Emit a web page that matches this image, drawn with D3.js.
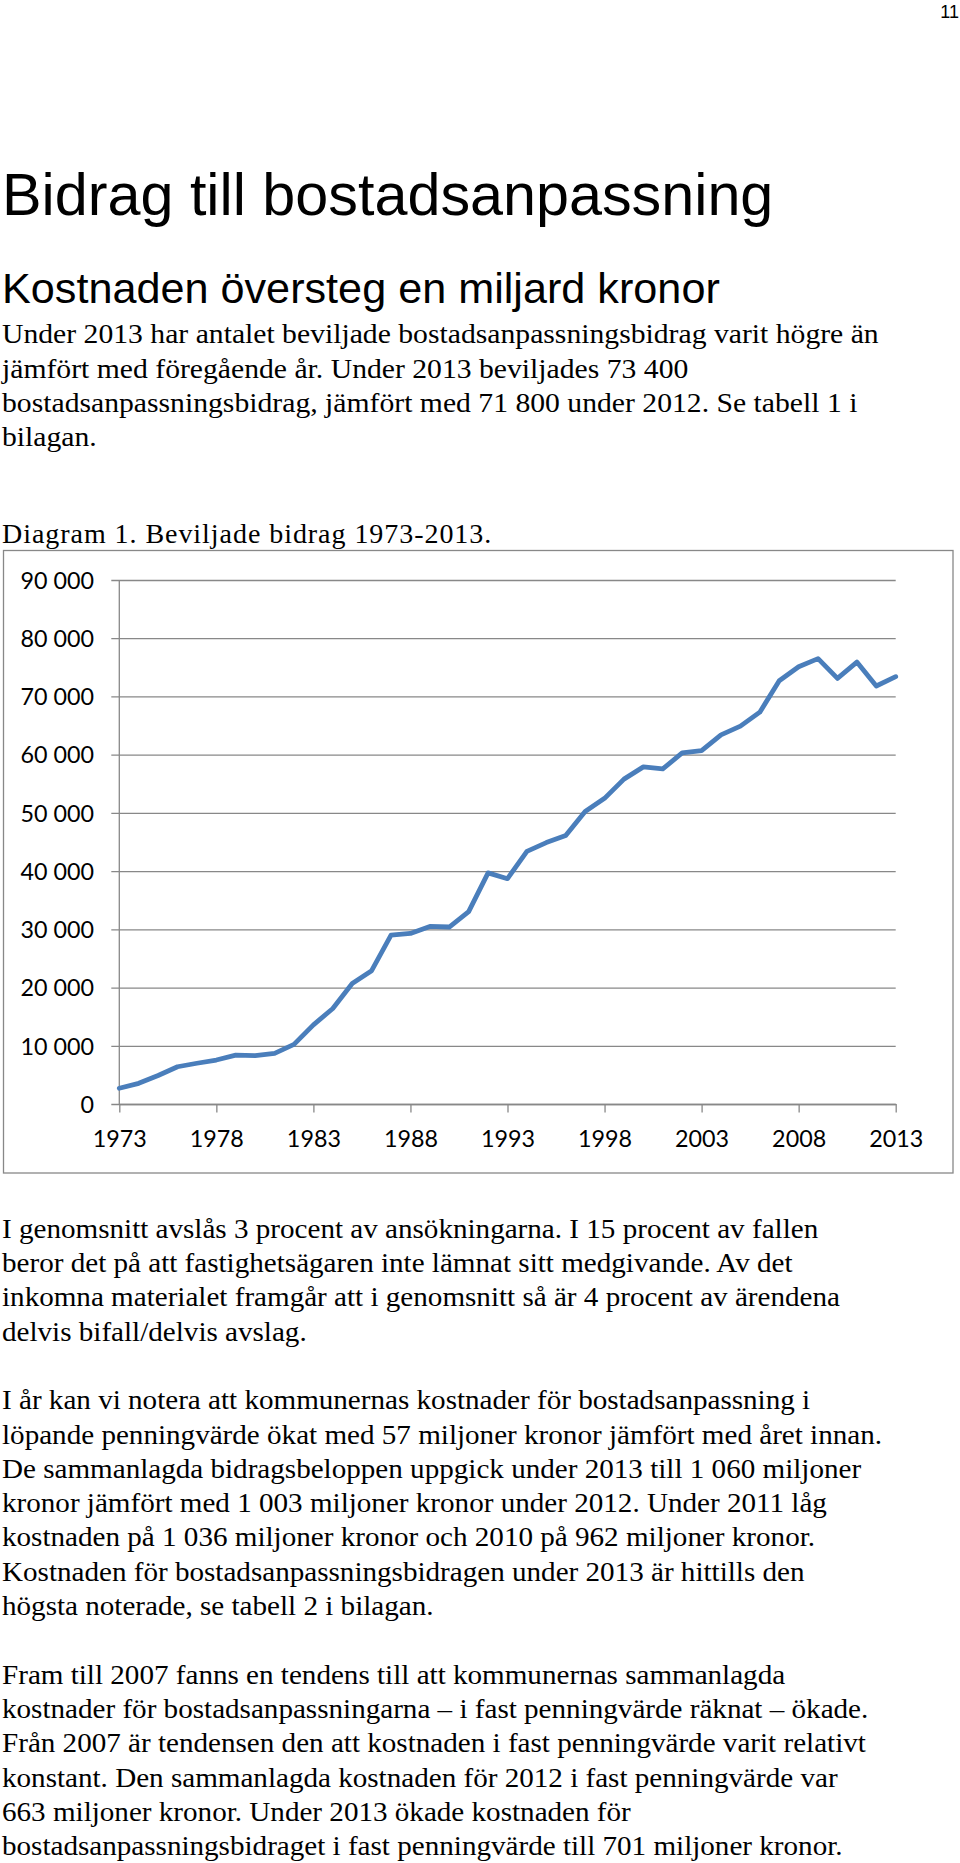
<!DOCTYPE html>
<html>
<head>
<meta charset="utf-8">
<script src="https://cdn.jsdelivr.net/npm/d3@7/dist/d3.min.js"></script>
<style>
  html, body { margin: 0; padding: 0; background: #fff; }
  svg { display: block; }
</style>
</head>
<body>
<svg id="page" width="960" height="1863"></svg>
<script>
// ---- Data ----
const years = [1973,1974,1975,1976,1977,1978,1979,1980,1981,1982,1983,1984,1985,1986,1987,1988,1989,1990,1991,1992,1993,1994,1995,1996,1997,1998,1999,2000,2001,2002,2003,2004,2005,2006,2007,2008,2009,2010,2011,2012,2013];
const grants = [2700,3550,4900,6400,7000,7550,8400,8300,8700,10250,13600,16400,20700,22900,29000,29300,30500,30400,33050,39700,38700,43400,44900,46100,50250,52500,55800,57900,57550,60300,60700,63400,64900,67300,72700,75100,76500,73100,75900,71800,73400];
const xTickYears = [1973,1978,1983,1988,1993,1998,2003,2008,2013];
const yTickValues = [0,10000,20000,30000,40000,50000,60000,70000,80000,90000];

const pageNumber = "11";
const title = "Bidrag till bostadsanpassning";
const subtitle = "Kostnaden översteg en miljard kronor";
const para1 = [
  "Under 2013 har antalet beviljade bostadsanpassningsbidrag varit högre än",
  "jämfört med föregående år. Under 2013 beviljades 73 400",
  "bostadsanpassningsbidrag, jämfört med 71 800 under 2012. Se tabell 1 i",
  "bilagan."
];
const caption = "Diagram 1. Beviljade bidrag 1973-2013.";
const para2 = [
  "I genomsnitt avslås 3 procent av ansökningarna. I 15 procent av fallen",
  "beror det på att fastighetsägaren inte lämnat sitt medgivande. Av det",
  "inkomna materialet framgår att i genomsnitt så är 4 procent av ärendena",
  "delvis bifall/delvis avslag."
];
const para3 = [
  "I år kan vi notera att kommunernas kostnader för bostadsanpassning i",
  "löpande penningvärde ökat med 57 miljoner kronor jämfört med året innan.",
  "De sammanlagda bidragsbeloppen uppgick under 2013 till 1 060 miljoner",
  "kronor jämfört med 1 003 miljoner kronor under 2012. Under 2011 låg",
  "kostnaden på 1 036 miljoner kronor och 2010 på 962 miljoner kronor.",
  "Kostnaden för bostadsanpassningsbidragen under 2013 är hittills den",
  "högsta noterade, se tabell 2 i bilagan."
];
const para4 = [
  "Fram till 2007 fanns en tendens till att kommunernas sammanlagda",
  "kostnader för bostadsanpassningarna – i fast penningvärde räknat – ökade.",
  "Från 2007 är tendensen den att kostnaden i fast penningvärde varit relativt",
  "konstant. Den sammanlagda kostnaden för 2012 i fast penningvärde var",
  "663 miljoner kronor. Under 2013 ökade kostnaden för",
  "bostadsanpassningsbidraget i fast penningvärde till 701 miljoner kronor."
];

// ---- Page ----
const svg = d3.select("#page");
const serif = "'Liberation Serif','Times New Roman',serif";
const sans = "'Liberation Sans',Arial,sans-serif";
const LH = 34.3;
const bodySize = 28;

svg.append("text").attr("x", 959).attr("y", 18.3).attr("text-anchor", "end")
  .style("font-family", sans).style("font-size", "18px").text(pageNumber);

svg.append("text").attr("x", 2).attr("y", 215)
  .style("font-family", sans).style("font-size", "59.3px").text(title);

svg.append("text").attr("x", 2).attr("y", 303)
  .style("font-family", sans).style("font-size", "43.2px").text(subtitle);

function paragraph(lines, y0, sx) {
  svg.append("g").selectAll("text").data(lines).join("text")
    .attr("transform", (d, i) => `translate(2,${y0 + i * LH}) scale(${sx},1)`)
    .style("font-family", serif).style("font-size", bodySize + "px")
    .text(d => d);
}
paragraph(para1, 343.3, 1.06);

svg.append("text").attr("x", 2).attr("y", 542.5)
  .style("font-family", serif).style("font-size", bodySize + "px")
  .style("letter-spacing", "0.95px").text(caption);

paragraph(para2, 1237.7, 1.04);
paragraph(para3, 1409.2, 1.04);
paragraph(para4, 1683.6, 1.04);

// ---- Chart ----
const gray = "#888888";
svg.append("rect").attr("x", 3.5).attr("y", 550.5).attr("width", 949.5).attr("height", 622.5)
  .attr("fill", "none").attr("stroke", gray).attr("stroke-width", 1.3);

const x = d3.scaleLinear().domain([1973, 2013]).range([119.3, 895.7]);
const y = d3.scaleLinear().domain([0, 90000]).range([1104, 580]);

const fmt = v => d3.format(",")(v).replace(/,/g, " ");
const labelFont = "Lato, 'Open Sans', sans-serif";

// Gridlines + y labels via axis
const yAxis = d3.axisLeft(y).tickValues(yTickValues)
  .tickSize(-(x.range()[1] - x.range()[0]) - 8).tickSizeOuter(0).tickPadding(0).tickFormat(fmt);
const gy = svg.append("g").attr("transform", `translate(${x.range()[0]},0)`).call(yAxis);
gy.select(".domain").remove();
gy.selectAll(".tick line").attr("x1", -8).attr("x2", x.range()[1] - x.range()[0])
  .attr("stroke", gray).attr("stroke-width", 1.3);
gy.selectAll(".tick text").attr("x", 94 - x.range()[0]).attr("dy", null).attr("y", 8.3)
  .attr("fill", "#000").style("font-family", labelFont).style("font-size", "23.3px");

// Y axis line
svg.append("line").attr("x1", x.range()[0]).attr("x2", x.range()[0])
  .attr("y1", y(90000)).attr("y2", y(0)).attr("stroke", gray).attr("stroke-width", 1.3);

// X axis
const xAxis = d3.axisBottom(x).tickValues(xTickYears).tickFormat(d3.format("d"))
  .tickSize(8.5).tickSizeOuter(0).tickPadding(0);
const gx = svg.append("g").attr("transform", `translate(0,${y(0)})`).call(xAxis);
gx.select(".domain").attr("stroke", gray).attr("stroke-width", 1.3);
gx.selectAll(".tick line").attr("stroke", gray).attr("stroke-width", 1.3);
gx.selectAll(".tick text").attr("dy", null).attr("y", 1147 - 1104)
  .attr("fill", "#000").style("font-family", labelFont).style("font-size", "23.3px");

// Line
const line = d3.line().x((d, i) => x(years[i])).y(d => y(d));
svg.append("path").datum(grants).attr("d", line)
  .attr("fill", "none").attr("stroke", "#4a7ebb").attr("stroke-width", 4.8)
  .attr("stroke-linejoin", "round").attr("stroke-linecap", "round");
</script>
</body>
</html>
